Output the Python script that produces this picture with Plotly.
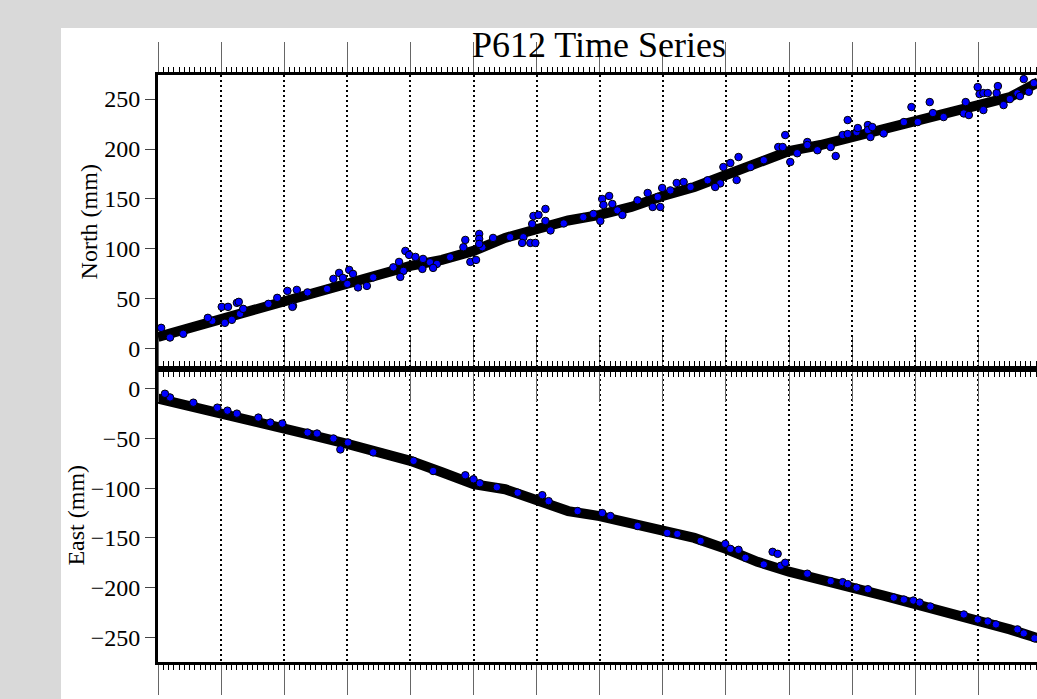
import plotly.graph_objects as go

# ---------------- data ----------------
band_years = [2005.0, 2005.5, 2006.0, 2006.5, 2007.0, 2007.5, 2008.0, 2008.5,
              2009.0, 2009.5, 2010.0, 2010.5, 2011.0, 2011.5, 2012.0, 2012.5,
              2013.0, 2013.5, 2014.0, 2014.5, 2015.0, 2015.5, 2016.0, 2016.5,
              2017.0, 2017.5, 2018.0, 2018.5, 2018.7, 2018.95]
north_band = [12, 21, 30, 38, 46, 55.5, 66, 75,
              83, 89, 98, 111, 121, 128.5, 134, 142,
              153, 162, 174, 186, 198, 204, 212.5, 221,
              228.5, 236, 244, 252, 260, 267]
east_band = [-10, -17, -25, -32, -40, -47.5, -55.5, -64,
             -72.5, -84, -96, -101, -112, -123, -128, -136,
             -143.5, -150, -161, -174, -184, -191, -200, -208,
             -216, -225, -233, -242, -246, -251]

# scattered / outlying daily positions (blue dots)
north_pts_t = [2005.05, 2005.79, 2006.01, 2006.11, 2006.25, 2006.28, 2006.35, 2006.89,
               2007.05, 2007.13, 2007.2, 2007.78, 2007.87, 2007.93, 2008.03, 2008.09,
               2008.31, 2008.82, 2008.84, 2008.92, 2008.98, 2009.08, 2009.2, 2009.36,
               2009.87, 2009.95, 2010.04, 2010.09, 2010.09, 2010.09, 2010.31, 2010.77,
               2010.9, 2010.93, 2010.95, 2010.98, 2011.03, 2011.14, 2011.14, 2012.01,
               2012.04, 2012.06, 2012.15, 2012.2, 2012.36, 2012.76, 2012.84, 2012.96,
               2012.99, 2013.22, 2013.33, 2013.83, 2013.96, 2014.07, 2014.17, 2014.2,
               2014.83, 2014.9, 2014.94, 2015.02, 2015.29, 2015.29, 2015.74, 2015.85,
               2015.93, 2015.93, 2016.07, 2016.09, 2016.25, 2016.25, 2016.32, 2016.82,
               2016.94, 2017.23, 2017.28, 2017.8, 2017.85, 2017.99, 2018.02, 2018.08,
               2018.15, 2018.29, 2018.31, 2018.5, 2018.66, 2018.72, 2018.88]
north_pts_v = [21, 31, 42, 42, 46, 47, 40, 51,
               58, 42, 59, 70, 76, 71, 79, 75,
               63, 87, 72, 98, 94, 92, 90, 81,
               109, 87, 89, 115, 110, 105, 111, 106,
               106, 125, 133, 106, 134, 140, 128, 128,
               150, 144, 153, 145, 134, 156, 142, 142,
               161, 166, 167, 162, 182, 186, 169, 192,
               202, 202, 214, 187, 207, 204, 193, 214,
               229, 215, 217, 221, 224, 219, 222, 227,
               242, 247, 236, 247, 234, 262, 255, 256,
               256, 256, 263, 250, 253, 270, 266]
# blue specks at the edges of the dense band
north_edge_t = [2005.19, 2005.4, 2005.86, 2006.06, 2006.17, 2006.3, 2006.75, 2007.14,
                2007.37, 2007.68, 2008.0, 2008.17, 2008.41, 2008.73, 2008.89, 2009.19,
                2009.31, 2009.42, 2009.63, 2009.84, 2010.14, 2010.58, 2010.79, 2011.22,
                2011.43, 2011.74, 2011.9, 2012.28, 2012.6, 2012.92, 2013.12, 2013.44,
                2013.71, 2013.91, 2014.39, 2014.6, 2015.13, 2015.45, 2015.66, 2016.29,
                2016.5, 2017.04, 2017.45, 2017.77, 2018.08, 2018.4, 2018.62, 2018.8]
north_edge_v = [11.3, 15, 28, 26, 29, 35, 45, 43,
                56.5, 60, 65, 61.5, 71.5, 81.6, 78, 80,
                86.6, 85, 91.7, 101.7, 101.7, 111.7, 111.7, 118.5,
                125.5, 131.8, 135, 138.6, 148.6, 152, 158.6, 162,
                168.7, 165.6, 182, 188.8, 195.8, 198.8, 202, 212,
                215.6, 227, 232, 235.6, 239, 244, 255.7, 257.3]

east_pts_t = [2005.11, 2005.56, 2005.94, 2006.25, 2006.78, 2006.97, 2007.52, 2007.78,
              2007.89, 2008.01, 2009.05, 2009.87, 2010.0, 2010.1, 2010.37, 2011.09,
              2011.19, 2012.04, 2012.17, 2013.07, 2013.23, 2013.99, 2014.07, 2014.2,
              2014.31, 2014.74, 2014.82, 2014.87, 2014.94, 2015.29, 2015.85, 2015.93,
              2016.07, 2016.25, 2016.66, 2016.97, 2017.07, 2017.24, 2017.99, 2018.15,
              2018.28, 2018.72, 2018.89]
east_pts_v = [-5, -14, -19, -25, -34, -35, -45, -50,
              -61, -54, -72.5, -87, -91, -95, -99, -107,
              -113, -125, -128, -145, -146, -156, -161, -162,
              -170, -164, -166, -178, -175, -186, -194.5, -196.5,
              -200, -201.6, -210, -213, -215, -219, -232, -234,
              -237, -246, -251]
east_edge_t = [2005.19, 2006.1, 2006.59, 2007.37, 2008.41, 2009.36, 2010.7,
               2011.65, 2012.6, 2013.6, 2014.6, 2015.66, 2016.82, 2017.77, 2018.62]
east_edge_v = [-8.7, -22, -29, -44, -64, -82.7, -104.5,
               -123, -138, -153, -176.7, -193.5, -212, -227, -242]

year_range = [2005.0, 2018.93]
north_range = [-19.7, 274.1]
east_range = [-274.8, 20.4]
north_ticks = [0, 50, 100, 150, 200, 250]
east_ticks = [-250, -200, -150, -100, -50, 0]

# ---------------- figure ----------------
W, H = 1037, 699
L, R, T, B = 158, 0, 75, 37
pw, ph = W - L - R, H - T - B
serif = "Liberation Serif"

fig = go.Figure()

band_style = dict(mode="lines", line=dict(color="black", width=10), hoverinfo="skip",
                  showlegend=False)
pt_style = dict(mode="markers", showlegend=False,
                marker=dict(size=7.5, color="#0000ff", line=dict(color="black", width=1)))

fig.add_trace(go.Scatter(x=band_years, y=north_band, xaxis="x2", yaxis="y2", **band_style))
fig.add_trace(go.Scatter(x=north_edge_t, y=north_edge_v, xaxis="x2", yaxis="y2", **pt_style))
fig.add_trace(go.Scatter(x=north_pts_t, y=north_pts_v, xaxis="x2", yaxis="y2", **pt_style))
fig.add_trace(go.Scatter(x=band_years, y=east_band, xaxis="x", yaxis="y", **band_style))
fig.add_trace(go.Scatter(x=east_edge_t, y=east_edge_v, xaxis="x", yaxis="y", **pt_style))
fig.add_trace(go.Scatter(x=east_pts_t, y=east_pts_v, xaxis="x", yaxis="y", **pt_style))

xcommon = dict(range=year_range, showline=True, linewidth=3, linecolor="black",
               mirror="ticks", ticks="outside", ticklen=30, tickwidth=1, tickcolor="#666",
               tick0=2005, dtick=1, showticklabels=False, showgrid=True,
               gridcolor="black", gridwidth=2, griddash="2px,3px", zeroline=False,
               automargin=False,
               minor=dict(tick0=2005, dtick=1 / 12, ticks="outside", ticklen=5,
                          tickwidth=1, tickcolor="black", showgrid=False))
ycommon = dict(showline=True, linewidth=3, linecolor="black", mirror=False,
               ticks="outside", ticklen=10, tickwidth=1, tickcolor="#444",
               showgrid=False, zeroline=False, automargin=False,
               tickfont=dict(family=serif, size=24, color="black"))

fig.update_layout(
    width=W, height=H, template="none",
    margin=dict(l=L, r=R, t=T, b=B, pad=0),
    paper_bgcolor="#d9d9d9", plot_bgcolor="white",
    font=dict(family=serif, color="black"),
    xaxis=dict(domain=[0, 1], anchor="y", **xcommon),
    xaxis2=dict(domain=[0, 1], anchor="y2", matches="x", **xcommon),
    yaxis=dict(domain=[0, 0.5], anchor="x", range=east_range, tickvals=east_ticks,
               title=dict(text="East (mm)", font=dict(family=serif, size=24)), **ycommon),
    yaxis2=dict(domain=[0.5, 1], anchor="x2", range=north_range, tickvals=north_ticks,
                title=dict(text="North (mm)", font=dict(family=serif, size=24)), **ycommon),
    shapes=[dict(type="rect", xref="paper", yref="paper", layer="below",
                 x0=(61 - L) / pw, x1=1.05, y0=-B / ph - 0.05, y1=(H - B - 28) / ph,
                 fillcolor="white", line=dict(width=0))],
    annotations=[dict(text="P612 Time Series", xref="paper", yref="paper",
                      x=(599 - L) / pw, y=(H - B - 45) / ph, xanchor="center",
                      yanchor="middle", showarrow=False,
                      font=dict(family=serif, size=36, color="black"))],
)

fig.write_html("out.html")
